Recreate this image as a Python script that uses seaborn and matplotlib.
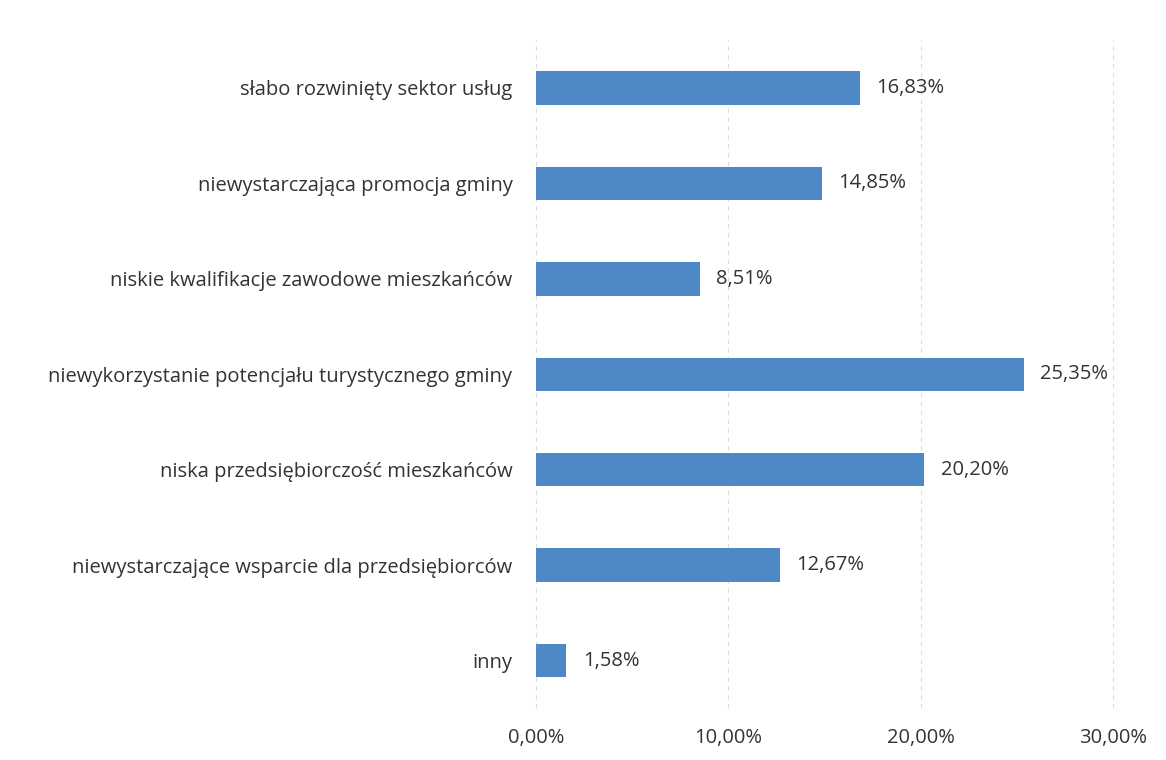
import matplotlib
matplotlib.use("Agg")
import matplotlib.pyplot as plt
import seaborn as sns
import pandas as pd

categories = [
    "słabo rozwinięty sektor usług",
    "niewystarczająca promocja gminy",
    "niskie kwalifikacje zawodowe mieszkańców",
    "niewykorzystanie potencjału turystycznego gminy",
    "niska przedsiębiorczość mieszkańców",
    "niewystarczające wsparcie dla przedsiębiorców",
    "inny",
]
values = [16.83, 14.85, 8.51, 25.35, 20.20, 12.67, 1.58]
x_ticks = [0, 10, 20, 30]
x_tick_labels = ["0,00%", "10,00%", "20,00%", "30,00%"]

sns.set_theme(style="white")
plt.rcParams['font.family'] = ['Open Sans', 'DejaVu Sans']

df = pd.DataFrame({"cat": categories, "val": values})

fig = plt.figure(figsize=(11.66, 7.6), dpi=100)
ax = fig.add_axes([0.4597, 0.068, 0.4948, 0.879])
sns.barplot(data=df, y="cat", x="val", orient="h", color="#4F88C6",
            width=0.35, ax=ax, saturation=1, linewidth=0)

ax.set_xlim(0, 30)
ax.set_xticks(x_ticks)
ax.set_xticklabels(x_tick_labels, fontsize=14.5, color="#333333")
ax.tick_params(axis='y', labelsize=14.5, labelcolor="#333333", length=0, pad=17)
ax.tick_params(axis='x', length=0, pad=14)
ax.set_xlabel("")
ax.set_ylabel("")
for s in ax.spines.values():
    s.set_visible(False)
ax.xaxis.grid(True, color="#dcdcdc", linestyle=(0, (4, 4)), linewidth=0.8)
for gl in ax.get_xgridlines():
    gl.set_clip_on(False)
ax.set_axisbelow(True)

for i, v in enumerate(values):
    ax.text(v + 0.85, i, f"{v:.2f}%".replace(".", ","), va="center", ha="left",
            fontsize=14.5, color="#333333")

fig.savefig("out.png", dpi=100, facecolor="white")
